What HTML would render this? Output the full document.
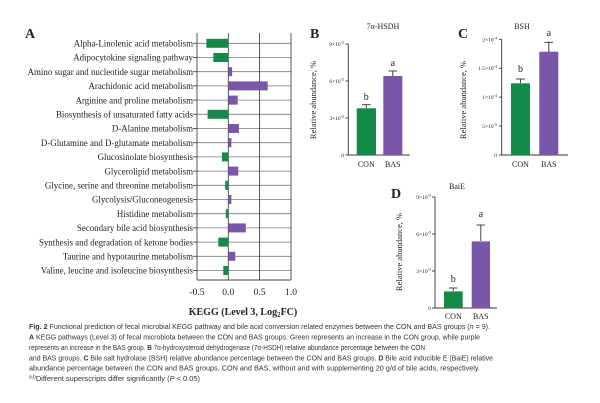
<!DOCTYPE html>
<html><head><meta charset="utf-8"><style>
html,body{margin:0;padding:0;background:#fff;}
svg{display:block;}
.s{font-family:"Liberation Serif","DejaVu Serif",serif;fill:#222;}
.c{font-family:"Liberation Sans","DejaVu Sans",sans-serif;fill:#333;font-size:7.6px;}
</style></head><body>
<svg width="600" height="403" viewBox="0 0 600 403" xmlns="http://www.w3.org/2000/svg">
<text x="25" y="38" class="s" font-size="14" font-weight="bold">A</text>
<g stroke="#777" stroke-width="0.8">
<line x1="197" y1="43.3" x2="291" y2="43.3"/><line x1="197" y1="57.5" x2="291" y2="57.5"/><line x1="197" y1="71.7" x2="291" y2="71.7"/><line x1="197" y1="85.9" x2="291" y2="85.9"/><line x1="197" y1="100.1" x2="291" y2="100.1"/><line x1="197" y1="114.3" x2="291" y2="114.3"/><line x1="197" y1="128.5" x2="291" y2="128.5"/><line x1="197" y1="142.7" x2="291" y2="142.7"/><line x1="197" y1="156.9" x2="291" y2="156.9"/><line x1="197" y1="171.1" x2="291" y2="171.1"/><line x1="197" y1="185.3" x2="291" y2="185.3"/><line x1="197" y1="199.5" x2="291" y2="199.5"/><line x1="197" y1="213.7" x2="291" y2="213.7"/><line x1="197" y1="227.9" x2="291" y2="227.9"/><line x1="197" y1="242.1" x2="291" y2="242.1"/><line x1="197" y1="256.3" x2="291" y2="256.3"/><line x1="197" y1="270.5" x2="291" y2="270.5"/>
</g>
<g stroke="#444" stroke-width="0.9">
<line x1="197" y1="33" x2="197" y2="280"/><line x1="228.3" y1="33" x2="228.3" y2="280"/><line x1="259.6" y1="33" x2="259.6" y2="280"/><line x1="291" y1="33" x2="291" y2="280"/>
<line x1="197" y1="280" x2="291" y2="280"/>
<line x1="193" y1="43.3" x2="197" y2="43.3"/><line x1="193" y1="57.5" x2="197" y2="57.5"/><line x1="193" y1="71.7" x2="197" y2="71.7"/><line x1="193" y1="85.9" x2="197" y2="85.9"/><line x1="193" y1="100.1" x2="197" y2="100.1"/><line x1="193" y1="114.3" x2="197" y2="114.3"/><line x1="193" y1="128.5" x2="197" y2="128.5"/><line x1="193" y1="142.7" x2="197" y2="142.7"/><line x1="193" y1="156.9" x2="197" y2="156.9"/><line x1="193" y1="171.1" x2="197" y2="171.1"/><line x1="193" y1="185.3" x2="197" y2="185.3"/><line x1="193" y1="199.5" x2="197" y2="199.5"/><line x1="193" y1="213.7" x2="197" y2="213.7"/><line x1="193" y1="227.9" x2="197" y2="227.9"/><line x1="193" y1="242.1" x2="197" y2="242.1"/><line x1="193" y1="256.3" x2="197" y2="256.3"/><line x1="193" y1="270.5" x2="197" y2="270.5"/>
</g>
<g>
<rect x="206.4" y="38.8" width="21.9" height="9" fill="#138a4a"/>
<rect x="213.3" y="53" width="15" height="9" fill="#138a4a"/>
<rect x="228.3" y="67.2" width="3.8" height="9" fill="#7a56a8"/>
<rect x="228.3" y="81.4" width="39.4" height="9" fill="#7a56a8"/>
<rect x="228.3" y="95.6" width="9.4" height="9" fill="#7a56a8"/>
<rect x="207.6" y="109.8" width="20.7" height="9" fill="#138a4a"/>
<rect x="228.3" y="124" width="10.6" height="9" fill="#7a56a8"/>
<rect x="228.3" y="138.2" width="3.1" height="9" fill="#7a56a8"/>
<rect x="222" y="152.4" width="6.3" height="9" fill="#138a4a"/>
<rect x="228.3" y="166.6" width="10" height="9" fill="#7a56a8"/>
<rect x="225.2" y="180.8" width="3.1" height="9" fill="#138a4a"/>
<rect x="228.3" y="195" width="3.1" height="9" fill="#7a56a8"/>
<rect x="225.8" y="209.2" width="2.5" height="9" fill="#138a4a"/>
<rect x="228.3" y="223.4" width="17.5" height="9" fill="#7a56a8"/>
<rect x="218.3" y="237.6" width="10" height="9" fill="#138a4a"/>
<rect x="228.3" y="251.8" width="6.9" height="9" fill="#7a56a8"/>
<rect x="223.3" y="266" width="5" height="9" fill="#138a4a"/>
</g>
<g class="s" font-size="8.9" text-anchor="end">
<text x="193" y="46.5">Alpha-Linolenic acid metabolism</text>
<text x="193" y="60.7">Adipocytokine signaling pathway</text>
<text x="193" y="74.9">Amino sugar and nucleotide sugar metabolism</text>
<text x="193" y="89.1">Arachidonic acid metabolism</text>
<text x="193" y="103.3">Arginine and proline metabolism</text>
<text x="193" y="117.5">Biosynthesis of unsaturated fatty acids</text>
<text x="193" y="131.7">D-Alanine metabolism</text>
<text x="193" y="145.9">D-Glutamine and D-glutamate metabolism</text>
<text x="193" y="160.1">Glucosinolate biosynthesis</text>
<text x="193" y="174.3">Glycerolipid metabolism</text>
<text x="193" y="188.5">Glycine, serine and threonine metabolism</text>
<text x="193" y="202.7">Glycolysis/Gluconeogenesis</text>
<text x="193" y="216.9">Histidine metabolism</text>
<text x="193" y="231.1">Secondary bile acid biosynthesis</text>
<text x="193" y="245.3">Synthesis and degradation of ketone bodies</text>
<text x="193" y="259.5">Taurine and hypotaurine metabolism</text>
<text x="193" y="273.7">Valine, leucine and isoleucine biosynthesis</text>
</g>
<g class="s" font-size="9.6" text-anchor="middle">
<text x="197" y="295">-0.5</text><text x="228.3" y="295">0.0</text><text x="259.6" y="295">0.5</text><text x="291" y="295">1.0</text>
</g>
<text x="243" y="315" class="s" font-size="10" font-weight="bold" text-anchor="middle">KEGG (Level 3, Log<tspan font-size="7" dy="2">2</tspan><tspan dy="-2">FC)</tspan></text>

<text x="310" y="38" class="s" font-size="14" font-weight="bold">B</text>
<text x="383" y="29" class="s" font-size="8" text-anchor="middle">7α-HSDH</text>
<g stroke="#333" stroke-width="0.9" fill="none">
<line x1="348.3" y1="44" x2="348.3" y2="155"/><line x1="348.3" y1="155" x2="410" y2="155"/>
<line x1="345.5" y1="44" x2="348.3" y2="44"/><line x1="345.5" y1="81" x2="348.3" y2="81"/><line x1="345.5" y1="118" x2="348.3" y2="118"/><line x1="345.5" y1="155" x2="348.3" y2="155"/>
<line x1="366.3" y1="108" x2="366.3" y2="104.7"/><line x1="362" y1="104.7" x2="370.6" y2="104.7"/>
<line x1="392.8" y1="76" x2="392.8" y2="71"/><line x1="388.5" y1="71" x2="397" y2="71"/>
</g>
<rect x="356.7" y="108.3" width="19.3" height="46.7" fill="#138a4a"/>
<rect x="383.3" y="76" width="19" height="79" fill="#7a56a8"/>
<g class="s" font-size="5.5" text-anchor="end">
<text x="344" y="46">9×10<tspan font-size="4" dy="-2">-5</tspan></text>
<text x="344" y="83">6×10<tspan font-size="4" dy="-2">-5</tspan></text>
<text x="344" y="120">3×10<tspan font-size="4" dy="-2">-5</tspan></text>
<text x="344" y="157">0</text>
</g>
<text x="366.3" y="100" class="s" font-size="10" text-anchor="middle">b</text>
<text x="392.8" y="66" class="s" font-size="10" text-anchor="middle">a</text>
<g class="s" font-size="8" text-anchor="middle"><text x="366.3" y="167">CON</text><text x="392.8" y="167">BAS</text></g>
<text transform="translate(316,100) rotate(-90)" class="s" font-size="8.5" text-anchor="middle">Relative abundance, %</text>

<text x="458" y="38" class="s" font-size="14" font-weight="bold">C</text>
<text x="522" y="29" class="s" font-size="8" text-anchor="middle">BSH</text>
<g stroke="#333" stroke-width="0.9" fill="none">
<line x1="501.7" y1="39.3" x2="501.7" y2="155"/><line x1="501.7" y1="155" x2="568" y2="155"/>
<line x1="499" y1="39.3" x2="501.7" y2="39.3"/><line x1="499" y1="68.2" x2="501.7" y2="68.2"/><line x1="499" y1="97.1" x2="501.7" y2="97.1"/><line x1="499" y1="126" x2="501.7" y2="126"/><line x1="499" y1="155" x2="501.7" y2="155"/>
<line x1="520.5" y1="83" x2="520.5" y2="79"/><line x1="516" y1="79" x2="525" y2="79"/>
<line x1="548.8" y1="52" x2="548.8" y2="42.3"/><line x1="544.5" y1="42.3" x2="553" y2="42.3"/>
</g>
<rect x="511" y="83.3" width="19" height="71.7" fill="#138a4a"/>
<rect x="539.3" y="51.7" width="19" height="103.3" fill="#7a56a8"/>
<g class="s" font-size="5.5" text-anchor="end">
<text x="497" y="41.3">2×10<tspan font-size="4" dy="-2">-4</tspan></text>
<text x="497" y="70.2">1.5×10<tspan font-size="4" dy="-2">-4</tspan></text>
<text x="497" y="99.1">1×10<tspan font-size="4" dy="-2">-4</tspan></text>
<text x="497" y="128">5×10<tspan font-size="4" dy="-2">-5</tspan></text>
<text x="497" y="157">0</text>
</g>
<text x="520.5" y="72" class="s" font-size="10" text-anchor="middle">b</text>
<text x="548.8" y="36" class="s" font-size="10" text-anchor="middle">a</text>
<g class="s" font-size="8" text-anchor="middle"><text x="520.5" y="167">CON</text><text x="548.8" y="167">BAS</text></g>
<text transform="translate(466,100) rotate(-90)" class="s" font-size="8.5" text-anchor="middle">Relative abundance, %</text>

<text x="391" y="198" class="s" font-size="14" font-weight="bold">D</text>
<text x="457" y="189" class="s" font-size="8" text-anchor="middle">BaiE</text>
<g stroke="#333" stroke-width="0.9" fill="none">
<line x1="435" y1="197" x2="435" y2="308"/><line x1="435" y1="308" x2="497" y2="308"/>
<line x1="432" y1="197" x2="435" y2="197"/><line x1="432" y1="234" x2="435" y2="234"/><line x1="432" y1="271" x2="435" y2="271"/><line x1="432" y1="308" x2="435" y2="308"/>
<line x1="453.3" y1="291" x2="453.3" y2="288"/><line x1="449" y1="288" x2="457.5" y2="288"/>
<line x1="480.8" y1="241" x2="480.8" y2="225"/><line x1="476.5" y1="225" x2="485" y2="225"/>
</g>
<rect x="444" y="291.4" width="18.7" height="16.6" fill="#138a4a"/>
<rect x="471.7" y="241.4" width="18.3" height="66.6" fill="#7a56a8"/>
<g class="s" font-size="5.5" text-anchor="end">
<text x="431" y="199">9×10<tspan font-size="4" dy="-2">-5</tspan></text>
<text x="431" y="236">6×10<tspan font-size="4" dy="-2">-5</tspan></text>
<text x="431" y="273">3×10<tspan font-size="4" dy="-2">-5</tspan></text>
<text x="431" y="310">0</text>
</g>
<text x="453.3" y="282" class="s" font-size="10" text-anchor="middle">b</text>
<text x="480.8" y="217" class="s" font-size="10" text-anchor="middle">a</text>
<g class="s" font-size="8" text-anchor="middle"><text x="453.3" y="319">CON</text><text x="480.8" y="319">BAS</text></g>
<text transform="translate(402,252) rotate(-90)" class="s" font-size="8.5" text-anchor="middle">Relative abundance, %</text>

<text x="29" y="329" class="c" textLength="461" lengthAdjust="spacingAndGlyphs"><tspan font-weight="bold">Fig. 2</tspan>  Functional prediction of fecal microbial KEGG pathway and bile acid conversion related enzymes between the CON and BAS groups (<tspan font-style="italic">n</tspan> = 9).</text>
<text x="29" y="339.5" class="c" textLength="451" lengthAdjust="spacingAndGlyphs"><tspan font-weight="bold">A</tspan> KEGG pathways (Level 3) of fecal microbiota between the CON and BAS groups. Green represents an increase in the CON group, while purple</text>
<text x="29" y="350" class="c" textLength="396" lengthAdjust="spacingAndGlyphs">represents an increase in the BAS group. <tspan font-weight="bold">B</tspan> 7α-hydroxysteroid dehydrogenase (7α-HSDH) relative abundance percentage between the CON</text>
<text x="29" y="360.3" class="c" textLength="464" lengthAdjust="spacingAndGlyphs">and BAS groups. <tspan font-weight="bold">C</tspan> Bile salt hydrolase (BSH) relative abundance percentage between the CON and BAS groups. <tspan font-weight="bold">D</tspan> Bile acid inducible E (BaiE) relative</text>
<text x="29" y="370.6" class="c" textLength="451" lengthAdjust="spacingAndGlyphs">abundance percentage between the CON and BAS groups. CON and BAS, without and with supplementing 20 g/d of bile acids, respectively.</text>
<text x="29" y="381" class="c" textLength="171" lengthAdjust="spacingAndGlyphs"><tspan font-size="5" dy="-2.5">a,b</tspan><tspan dy="2.5">Different superscripts differ significantly (</tspan><tspan font-style="italic">P</tspan> &lt; 0.05)</text>
</svg>
</body></html>
